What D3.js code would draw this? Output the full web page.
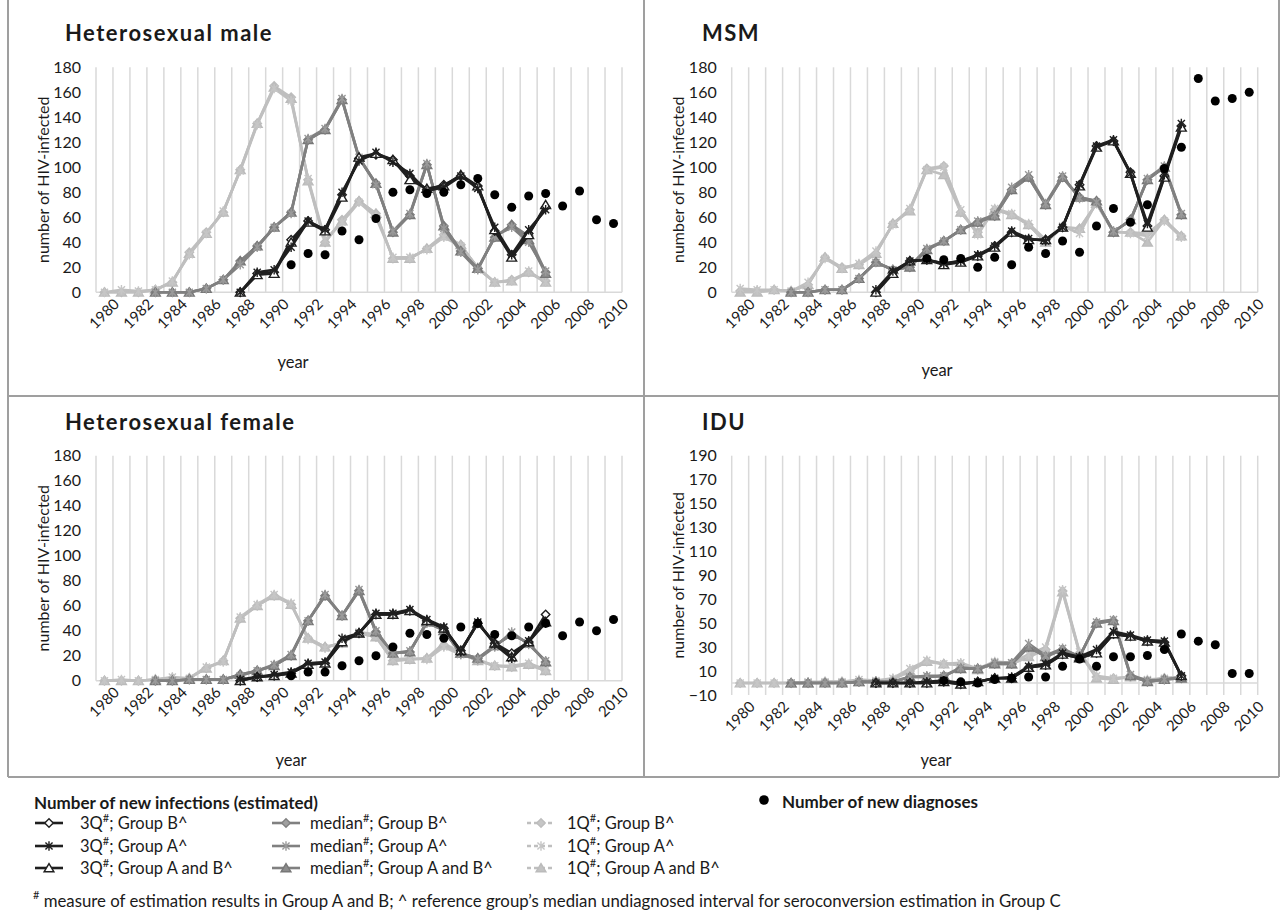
<!DOCTYPE html>
<html>
<head>
<meta charset="utf-8">
<script src="https://cdn.jsdelivr.net/npm/d3@7"></script>
<style>
  body { margin: 0; background: #fff; }
  text { font-family: Lato, "Open Sans", sans-serif; fill: #1a1a1a; }
</style>
</head>
<body>
<div id="chart"></div>
<script>
// Categories
const N = null;
const years = ["1980","1981","1982","1983","1984","1985","1986","1987","1988","1989","1990",
  "1991","1992","1993","1994","1995","1996","1997","1998","1999","2000",
  "2001","2002","2003","2004","2005","2006","2007","2008","2009","2010"];
const tickYears = ["1980","1982","1984","1986","1988","1990","1992","1994","1996","1998",
  "2000","2002","2004","2006","2008","2010"];
const yTicks = [0,20,40,60,80,100,120,140,160,180];
const yTicksIDU = [-10,10,30,50,70,90,110,130,150,170,190];

// Heterosexual male (index 0 = 1980)
const hm1Q_B  = [0,0,0,2,8,32,48,64,98,135,165,156,90,40,58,73,63,27,27,35,46,38,19,8,10,16,9];
const hm1Q_A  = [0,2,1,2,9,30,47,65,97,134,163,153,91,42,56,72,60,28,28,34,44,37,20,8,9,17,8];
const hm1Q_AB = [0,0,0,2,8,31,47,64,98,135,164,155,89,40,57,73,63,27,27,35,45,38,19,8,9,16,8];
const hmMed_B  = [N,N,N,0,0,0,3,10,25,37,52,64,122,130,154,107,87,48,62,102,53,33,19,44,54,45,16];
const hmMed_A  = [N,N,N,0,0,0,3,10,22,36,52,63,123,131,155,108,86,49,63,103,51,32,18,45,52,40,17];
const hmMed_AB = [N,N,N,0,0,0,3,10,25,37,52,64,122,130,154,108,87,48,62,102,53,33,19,44,54,42,15];
const hm3Q_B  = [N,N,N,N,N,N,N,N,0,15,16,42,57,50,78,107,110,106,93,82,86,93,85,49,30,47,68];
const hm3Q_A  = [N,N,N,N,N,N,N,N,0,16,18,36,57,50,80,105,112,104,95,81,84,93,83,52,30,50,66];
const hm3Q_AB = [N,N,N,N,N,N,N,N,0,14,15,40,56,49,76,108,111,106,90,83,85,94,85,50,28,46,70];
const hmDiag  = [N,N,N,N,N,N,N,N,N,N,N,22,31,30,49,42,59,80,82,79,80,86,91,78,68,77,79,69,81,58,55];

// MSM
const ms1Q_B  = [1,1,2,1,6,28,20,22,31,55,66,99,101,64,48,66,62,54,40,52,51,71,48,48,47,58,45];
const ms1Q_A  = [3,2,2,1,8,27,19,23,33,54,67,98,100,66,46,67,63,55,42,53,47,72,49,47,45,57,44];
const ms1Q_AB = [0,0,2,1,6,28,19,22,31,55,65,98,94,64,47,66,62,54,40,52,51,71,48,48,40,58,45];
const msMed_B  = [N,N,N,0,0,2,2,11,24,18,20,34,41,50,56,61,82,92,70,92,76,73,48,58,90,100,62];
const msMed_A  = [N,N,N,0,0,2,2,11,24,18,21,35,41,50,57,62,84,94,71,93,75,72,49,57,91,101,63];
const msMed_AB = [N,N,N,0,0,2,2,11,24,18,20,34,41,50,56,61,82,92,70,92,76,73,48,58,90,100,62];
const ms3Q_B  = [N,N,N,N,N,N,N,N,0,16,25,26,23,25,29,37,48,42,42,52,86,117,121,96,53,93,133];
const ms3Q_A  = [N,N,N,N,N,N,N,N,2,17,25,26,23,25,30,37,49,43,41,52,86,117,122,95,55,94,135];
const ms3Q_AB = [N,N,N,N,N,N,N,N,0,15,25,26,22,24,29,36,48,42,42,52,85,116,121,95,52,92,132];
const msDiag  = [N,N,N,N,N,N,N,N,N,N,N,27,26,27,20,28,22,36,31,41,32,53,67,56,70,99,116,171,153,155,160];

// Heterosexual female
const hf1Q_B  = [0,0,0,1,2,2,10,16,50,60,68,61,34,27,30,38,35,16,17,18,28,22,16,12,11,13,8];
const hf1Q_A  = [0,1,0,1,3,2,11,15,51,61,69,62,33,26,31,39,37,17,18,17,27,21,17,12,12,14,9];
const hf1Q_AB = [0,0,0,1,2,2,10,16,50,60,68,61,34,27,30,38,35,16,17,18,30,22,16,12,11,13,8];
const hfMed_B  = [N,N,N,0,0,1,1,1,5,8,12,20,48,68,52,72,39,22,23,47,40,22,18,28,37,30,15];
const hfMed_A  = [N,N,N,0,0,1,1,1,4,8,13,21,48,69,52,73,40,22,24,46,41,21,17,27,39,29,16];
const hfMed_AB = [N,N,N,0,0,1,1,1,5,8,12,20,48,68,52,72,39,22,23,47,40,22,18,28,37,30,15];
const hf3Q_B  = [N,N,N,N,N,N,N,N,0,3,4,6,13,14,31,38,53,53,56,48,42,24,46,30,22,31,53];
const hf3Q_A  = [N,N,N,N,N,N,N,N,1,3,5,7,14,15,34,38,54,54,57,49,43,23,47,29,18,32,46];
const hf3Q_AB = [N,N,N,N,N,N,N,N,0,3,4,6,13,14,31,38,53,53,56,48,42,24,46,30,19,31,47];
const hfDiag  = [N,N,N,N,N,N,N,N,N,N,N,4,7,7,12,16,20,27,38,37,34,43,46,37,36,43,46,36,47,40,49];

// IDU
const id1Q_B  = [0,0,0,0,0,1,1,1,1,3,10,18,16,16,11,17,16,22,28,77,25,5,4,5,2,4,5];
const id1Q_A  = [0,0,0,0,1,1,1,3,2,4,12,19,16,17,12,18,17,24,30,78,26,6,4,5,3,4,5];
const id1Q_AB = [0,0,0,0,0,1,1,1,1,3,10,18,16,15,11,17,16,22,28,76,25,4,3,5,2,4,5];
const idMed_B  = [N,N,N,0,0,0,0,1,1,1,5,5,6,12,12,16,16,30,22,28,22,50,52,6,1,3,4];
const idMed_A  = [N,N,N,0,0,0,0,1,1,1,5,6,6,13,12,17,17,33,23,29,22,51,53,7,2,3,5];
const idMed_AB = [N,N,N,0,0,0,0,1,1,1,5,5,6,12,12,16,16,30,22,28,22,50,52,6,1,3,4];
const id3Q_B  = [N,N,N,N,N,N,N,N,0,0,0,0,1,-1,1,4,4,13,15,24,21,25,41,39,35,34,6];
const id3Q_A  = [N,N,N,N,N,N,N,N,0,0,0,1,2,0,1,4,5,14,16,25,22,28,43,40,36,35,6];
const id3Q_AB = [N,N,N,N,N,N,N,N,0,0,0,0,1,-1,1,4,4,13,15,24,21,25,41,39,35,34,6];
const idDiag  = [N,N,N,N,N,N,N,N,N,N,N,N,2,1,0,3,4,5,5,14,20,14,22,22,23,28,41,35,32,8,8];

// Panel layout
const panels = [
  { title: "Heterosexual male", tx: 65, ty: 32, left: 96, right: 622, top: 67.3, bottom: 292.3,
    domain: [0, 180], ticks: yTicks, yearX: 293, yearY: 362, ytX: 42,
    data: { q1B: hm1Q_B, q1A: hm1Q_A, q1AB: hm1Q_AB, medB: hmMed_B, medA: hmMed_A, medAB: hmMed_AB,
            q3B: hm3Q_B, q3A: hm3Q_A, q3AB: hm3Q_AB }, diag: hmDiag },
  { title: "MSM", tx: 702, ty: 32, left: 731.7, right: 1257.7, top: 67.3, bottom: 292.3,
    domain: [0, 180], ticks: yTicks, yearX: 937, yearY: 370, ytX: 677,
    data: { q1B: ms1Q_B, q1A: ms1Q_A, q1AB: ms1Q_AB, medB: msMed_B, medA: msMed_A, medAB: msMed_AB,
            q3B: ms3Q_B, q3A: ms3Q_A, q3AB: ms3Q_AB }, diag: msDiag },
  { title: "Heterosexual female", tx: 65, ty: 421, left: 96, right: 622, top: 455.7, bottom: 680.7,
    domain: [0, 180], ticks: yTicks, yearX: 291, yearY: 760, ytX: 42,
    data: { q1B: hf1Q_B, q1A: hf1Q_A, q1AB: hf1Q_AB, medB: hfMed_B, medA: hfMed_A, medAB: hfMed_AB,
            q3B: hf3Q_B, q3A: hf3Q_A, q3AB: hf3Q_AB }, diag: hfDiag },
  { title: "IDU", tx: 702, ty: 421, left: 731.7, right: 1257.7, top: 455.7, bottom: 695,
    domain: [-10, 190], ticks: yTicksIDU, yearX: 936, yearY: 760, ytX: 677,
    data: { q1B: id1Q_B, q1A: id1Q_A, q1AB: id1Q_AB, medB: idMed_B, medA: idMed_A, medAB: idMed_AB,
            q3B: id3Q_B, q3A: id3Q_A, q3AB: id3Q_AB }, diag: idDiag }
];

// Marker shapes
const diamond = { draw(c, size) { const r = Math.sqrt(size) / 2;
  c.moveTo(0, -r); c.lineTo(r, 0); c.lineTo(0, r); c.lineTo(-r, 0); c.closePath(); } };
const triangle = { draw(c, size) { const r = Math.sqrt(size) / 2;
  c.moveTo(0, -r); c.lineTo(r * 1.1, r * 0.85); c.lineTo(-r * 1.1, r * 0.85); c.closePath(); } };
const asterisk = { draw(c, size) { const r = Math.sqrt(size) / 2, k = r * 0.75;
  c.moveTo(0, -r); c.lineTo(0, r); c.moveTo(-k, -k); c.lineTo(k, k); c.moveTo(-k, k); c.lineTo(k, -k); } };

const styles = {
  q3B:  { line: "#1f1f1f", shape: diamond,  size: 72, fill: "#fff",    stroke: "#1f1f1f" },
  q3A:  { line: "#1f1f1f", shape: asterisk, size: 90, fill: "none",    stroke: "#1f1f1f" },
  q3AB: { line: "#1f1f1f", shape: triangle, size: 80, fill: "#fff",    stroke: "#1f1f1f" },
  medB: { line: "#808080", shape: diamond,  size: 72, fill: "#a0a0a0", stroke: "#808080" },
  medA: { line: "#808080", shape: asterisk, size: 90, fill: "none",    stroke: "#9a9a9a" },
  medAB:{ line: "#808080", shape: triangle, size: 80, fill: "#8c8c8c", stroke: "#777" },
  q1B:  { line: "#bfbfbf", shape: diamond,  size: 72, fill: "#c6c6c6", stroke: "#bdbdbd", dash: "4,3" },
  q1A:  { line: "#bfbfbf", shape: asterisk, size: 90, fill: "none",    stroke: "#c6c6c6", dash: "4,3" },
  q1AB: { line: "#bfbfbf", shape: triangle, size: 80, fill: "#c2c2c2", stroke: "#bbb",    dash: "4,3" }
};
const drawOrder = ["q1B", "q1AB", "q1A", "medB", "medAB", "medA", "q3B", "q3AB", "q3A"];

const svg = d3.select("#chart").append("svg")
  .attr("width", 1283).attr("height", 911);

// Panel frames
const frame = svg.append("g").attr("stroke", "#9f9f9f").attr("stroke-width", 2);
[8, 644, 1279].forEach(xx => frame.append("line").attr("x1", xx).attr("x2", xx).attr("y1", 0).attr("y2", 777));
[396, 777].forEach(yy => frame.append("line").attr("x1", 8).attr("x2", 1279).attr("y1", yy).attr("y2", yy));

panels.forEach(p => {
  const x = d3.scaleBand().domain(years).range([p.left, p.right]);
  const y = d3.scaleLinear().domain(p.domain).range([p.bottom, p.top]);
  const cx = d => x(d) + x.bandwidth() / 2;
  const g = svg.append("g");

  // Title
  g.append("text").attr("x", p.tx).attr("y", p.ty)
    .attr("dominant-baseline", "central")
    .attr("font-size", 22).attr("font-weight", "bold").attr("letter-spacing", 1.5)
    .attr("fill", "#000").text(p.title);

  // Vertical gridlines at category boundaries
  const bounds = years.map(d => x(d)).concat([x.range()[1]]);
  g.selectAll(".vgrid").data(bounds).join("line")
    .attr("x1", d => d).attr("x2", d => d)
    .attr("y1", p.top).attr("y2", p.bottom)
    .attr("stroke", "#d9d9d9").attr("stroke-width", 1.5);

  // Category axis line at zero
  g.append("line").attr("x1", p.left).attr("x2", p.right)
    .attr("y1", y(0)).attr("y2", y(0))
    .attr("stroke", "#d9d9d9").attr("stroke-width", 1.5);

  // Y axis
  const ya = g.append("g").attr("transform", `translate(${p.left},0)`)
    .call(d3.axisLeft(y).tickValues(p.ticks).tickSize(0).tickPadding(15));
  ya.select(".domain").remove();
  ya.selectAll("text").attr("font-size", 16).attr("font-family", "Lato").attr("fill", "#1a1a1a");

  // X axis (rotated labels)
  const xa = g.append("g").attr("transform", `translate(0,${p.bottom})`)
    .call(d3.axisBottom(x).tickValues(tickYears).tickSize(0));
  xa.select(".domain").remove();
  xa.selectAll("text")
    .attr("y", 0).attr("dy", "0.35em")
    .attr("text-anchor", "end")
    .attr("font-size", 15).attr("font-family", "Lato").attr("fill", "#1a1a1a")
    .attr("transform", "translate(12,9) rotate(-45)");

  // Axis titles
  g.append("text").attr("x", p.yearX).attr("y", p.yearY)
    .attr("text-anchor", "middle").attr("dominant-baseline", "central")
    .attr("font-size", 16.5).text("year");
  g.append("text")
    .attr("transform", `translate(${p.ytX},${(p.top + p.bottom) / 2}) rotate(-90)`)
    .attr("text-anchor", "middle").attr("dominant-baseline", "central")
    .attr("font-size", 16).text("number of HIV-infected");

  // Estimated series
  drawOrder.forEach(key => {
    const st = styles[key];
    const pts = years.map((yr, i) => ({ yr, v: p.data[key][i] }))
      .filter(d => d.v !== null && d.v !== undefined);
    const line = d3.line().x(d => cx(d.yr)).y(d => y(d.v));
    g.append("path").datum(pts)
      .attr("d", line).attr("fill", "none")
      .attr("stroke", st.line).attr("stroke-width", 2.6)
      .attr("stroke-linejoin", "round");
    g.selectAll(null).data(pts).join("path")
      .attr("transform", d => `translate(${cx(d.yr)},${y(d.v)})`)
      .attr("d", d3.symbol().type(st.shape).size(st.size))
      .attr("fill", st.fill).attr("stroke", st.stroke).attr("stroke-width", 1.4);
  });

  // Diagnoses
  const dpts = years.map((yr, i) => ({ yr, v: p.diag[i] })).filter(d => d.v !== null);
  g.selectAll(null).data(dpts).join("circle")
    .attr("cx", d => cx(d.yr)).attr("cy", d => y(d.v)).attr("r", 4.5)
    .attr("fill", "#000");
});

// Legend
const legendRows = [["q3B", "medB", "q1B"], ["q3A", "medA", "q1A"], ["q3AB", "medAB", "q1AB"]];
const legendLabels = {
  q3B: ["3Q", "; Group B^"], q3A: ["3Q", "; Group A^"], q3AB: ["3Q", "; Group A and B^"],
  medB: ["median", "; Group B^"], medA: ["median", "; Group A^"], medAB: ["median", "; Group A and B^"],
  q1B: ["1Q", "; Group B^"], q1A: ["1Q", "; Group A^"], q1AB: ["1Q", "; Group A and B^"]
};
const colX = [35, 272, 527];
const colTextX = [80, 310, 567];
const rowY = [823, 846, 868];
const lg = svg.append("g");

lg.append("text").attr("x", 34).attr("y", 802).attr("dominant-baseline", "central")
  .attr("font-size", 17).attr("font-weight", "bold").text("Number of new infections (estimated)");
lg.append("circle").attr("cx", 764).attr("cy", 800).attr("r", 4.8).attr("fill", "#000");
lg.append("text").attr("x", 782).attr("y", 801).attr("dominant-baseline", "central")
  .attr("font-size", 17).attr("font-weight", "bold").text("Number of new diagnoses");

legendRows.forEach((row, r) => {
  row.forEach((key, c) => {
    const st = styles[key];
    const x0 = colX[c], yy = rowY[r];
    lg.append("line").attr("x1", x0).attr("x2", x0 + 28).attr("y1", yy).attr("y2", yy)
      .attr("stroke", st.line).attr("stroke-width", 2.6)
      .attr("stroke-dasharray", st.dash || null);
    lg.append("path").attr("transform", `translate(${x0 + 14},${yy})`)
      .attr("d", d3.symbol().type(st.shape).size(st.size))
      .attr("fill", st.fill).attr("stroke", st.stroke).attr("stroke-width", 1.4);
    const t = lg.append("text").attr("x", colTextX[c]).attr("y", yy)
      .attr("dominant-baseline", "central").attr("font-size", 16.5);
    t.append("tspan").text(legendLabels[key][0]);
    t.append("tspan").attr("font-size", 11).attr("dy", -6).text("#");
    t.append("tspan").attr("dy", 6).text(legendLabels[key][1]);
  });
});

const fn = lg.append("text").attr("x", 33).attr("y", 900)
  .attr("dominant-baseline", "central").attr("font-size", 16.8);
fn.append("tspan").attr("font-size", 11).attr("dy", -6).text("#");
fn.append("tspan").attr("dy", 6)
  .text(" measure of estimation results in Group A and B; ^ reference group\u2019s median undiagnosed interval for seroconversion estimation in Group C");
</script>
</body>
</html>
